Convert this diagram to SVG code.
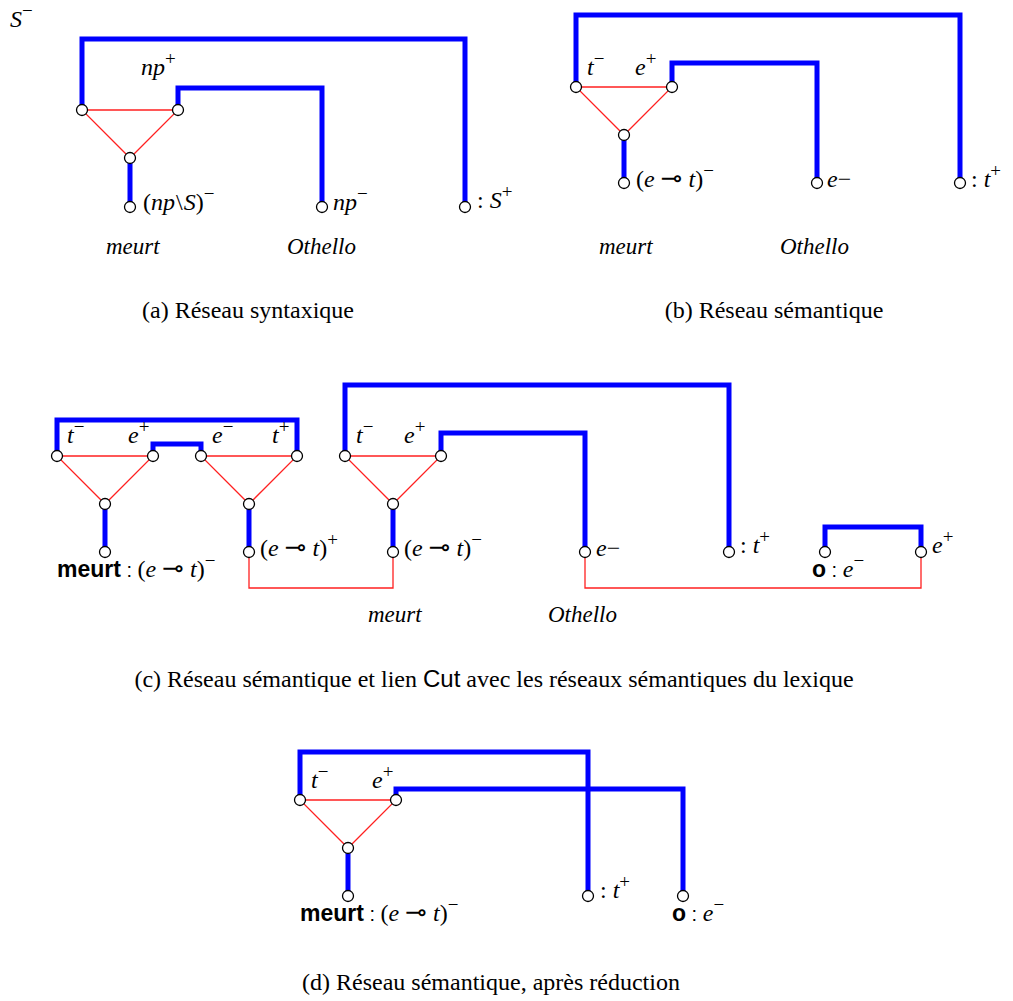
<svg xmlns="http://www.w3.org/2000/svg" width="1013" height="1001" viewBox="0 0 1013 1001">
<style>
.bl{fill:none;stroke:#0000ff;stroke-width:5;stroke-linejoin:miter;stroke-linecap:butt}
.rd{fill:none;stroke:#ff2020;stroke-width:1.3}
.nd{fill:#fff;stroke:#000;stroke-width:1.3}
.m{font-family:"Liberation Serif",serif;font-size:24px;fill:#000}
.w{font-family:"Liberation Serif",serif;font-size:23px;fill:#000;font-style:italic}
.i{font-style:italic}
.sup{font-size:19px;font-style:normal}
.cap{font-family:"Liberation Serif",serif;font-size:24px;fill:#000;text-anchor:middle}
.sf{font-family:"Liberation Sans",Arial,sans-serif}
.b{font-family:"Liberation Sans",Arial,sans-serif;font-weight:bold;font-size:23px}
.col{font-family:"Liberation Sans",Arial,sans-serif;font-size:20px}
.op{font-family:"DejaVu Sans",sans-serif;font-size:26px;font-style:normal}
</style>
<rect width="1013" height="1001" fill="#fff"/>
<g id="connectors">
  <path class="rd" d="M82,110 H178 L130,158 Z"/>
  <path class="bl" d="M82,110 V39 H465 V207"/>
  <path class="bl" d="M178,110 V88 H322 V207"/>
  <path class="bl" d="M130,158 V207"/>
  <path class="rd" d="M576,87 H672 L624,135 Z"/>
  <path class="bl" d="M576,87 V15 H960 V183"/>
  <path class="bl" d="M672,87 V63 H817 V183"/>
  <path class="bl" d="M624,135 V183"/>
  <path class="rd" d="M57,456 H153 L105,504 Z"/>
  <path class="rd" d="M201,456 H297 L249,504 Z"/>
  <path class="bl" d="M57,456 V420 H297 V456"/>
  <path class="bl" d="M153,456 V444 H201 V456"/>
  <path class="bl" d="M105,504 V552"/>
  <path class="bl" d="M249,504 V552"/>
  <path class="rd" d="M345,456 H441 L393,504 Z"/>
  <path class="bl" d="M345,456 V385 H729 V552"/>
  <path class="bl" d="M441,456 V433 H585 V552"/>
  <path class="bl" d="M393,504 V552"/>
  <path class="bl" d="M825,552 V527 H921 V552"/>
  <path class="rd" d="M249,552 V588 H393 V552"/>
  <path class="rd" d="M585,552 V588 H921 V552"/>
  <path class="rd" d="M300,800 H396 L348,848 Z"/>
  <path class="bl" d="M396,800 V789 H683 V896"/>
  <path class="bl" d="M300,800 V752 H588 V896"/>
  <path class="bl" d="M348,848 V896"/>
</g>
<g id="nodes-a">
  <g id="a-n1"><circle class="nd" cx="82" cy="110" r="5.5"/></g>
  <g id="a-n2"><circle class="nd" cx="178" cy="110" r="5.5"/></g>
  <g id="a-n3"><circle class="nd" cx="130" cy="158" r="5.5"/></g>
  <g id="a-n4"><circle class="nd" cx="130" cy="207" r="5.5"/></g>
  <g id="a-n5"><circle class="nd" cx="322" cy="207" r="5.5"/></g>
  <g id="a-n6"><circle class="nd" cx="465" cy="207" r="5.5"/></g>
  <text class="m i" x="10" y="27">S<tspan class="sup" dy="-10">−</tspan></text>
  <text class="m i" x="141" y="75">np<tspan class="sup" dy="-10">+</tspan></text>
  <text class="m" x="143" y="210">(<tspan class="i">np</tspan><tspan dx="1">\</tspan><tspan class="i" dx="1">S</tspan>)<tspan class="sup" dy="-10">−</tspan></text>
  <text class="m i" x="333" y="210">np<tspan class="sup" dy="-10">−</tspan></text>
  <text class="m" x="477" y="208">: <tspan class="i">S</tspan><tspan class="sup" dy="-10">+</tspan></text>
  <text class="w" x="106" y="254">meurt</text>
  <text class="w" x="287" y="254">Othello</text>
  <text class="cap" x="248" y="318">(a) Réseau syntaxique</text>
</g>
<g id="nodes-b">
  <g id="b-n1"><circle class="nd" cx="576" cy="87" r="5.5"/></g>
  <g id="b-n2"><circle class="nd" cx="672" cy="87" r="5.5"/></g>
  <g id="b-n3"><circle class="nd" cx="624" cy="135" r="5.5"/></g>
  <g id="b-n4"><circle class="nd" cx="624" cy="183" r="5.5"/></g>
  <g id="b-n5"><circle class="nd" cx="817" cy="183" r="5.5"/></g>
  <g id="b-n6"><circle class="nd" cx="960" cy="183" r="5.5"/></g>
  <text class="m i" x="587" y="75">t<tspan class="sup" dy="-10">−</tspan></text>
  <text class="m i" x="635" y="75">e<tspan class="sup" dy="-10">+</tspan></text>
  <text class="m" x="636" y="187">(<tspan class="i">e</tspan><tspan class="op" dx="6">⊸</tspan><tspan class="i" dx="6">t</tspan>)<tspan class="sup" dy="-10">−</tspan></text>
  <text class="m" x="827" y="187"><tspan class="i">e</tspan>−</text>
  <text class="m" x="971" y="187">: <tspan class="i">t</tspan><tspan class="sup" dy="-10">+</tspan></text>
  <text class="w" x="599" y="254">meurt</text>
  <text class="w" x="780" y="254">Othello</text>
  <text class="cap" x="774" y="318">(b) Réseau sémantique</text>
</g>
<g id="nodes-c">
  <g id="c-n1"><circle class="nd" cx="57" cy="456" r="5.5"/></g>
  <g id="c-n2"><circle class="nd" cx="153" cy="456" r="5.5"/></g>
  <g id="c-n3"><circle class="nd" cx="105" cy="504" r="5.5"/></g>
  <g id="c-n4"><circle class="nd" cx="105" cy="552" r="5.5"/></g>
  <g id="c-n5"><circle class="nd" cx="201" cy="456" r="5.5"/></g>
  <g id="c-n6"><circle class="nd" cx="297" cy="456" r="5.5"/></g>
  <g id="c-n7"><circle class="nd" cx="249" cy="504" r="5.5"/></g>
  <g id="c-n8"><circle class="nd" cx="249" cy="552" r="5.5"/></g>
  <g id="c-n9"><circle class="nd" cx="345" cy="456" r="5.5"/></g>
  <g id="c-n10"><circle class="nd" cx="441" cy="456" r="5.5"/></g>
  <g id="c-n11"><circle class="nd" cx="393" cy="504" r="5.5"/></g>
  <g id="c-n12"><circle class="nd" cx="393" cy="552" r="5.5"/></g>
  <g id="c-n13"><circle class="nd" cx="585" cy="552" r="5.5"/></g>
  <g id="c-n14"><circle class="nd" cx="729" cy="552" r="5.5"/></g>
  <g id="c-n15"><circle class="nd" cx="825" cy="552" r="5.5"/></g>
  <g id="c-n16"><circle class="nd" cx="921" cy="552" r="5.5"/></g>
  <text class="m i" x="67" y="443">t<tspan class="sup" dy="-10">−</tspan></text>
  <text class="m i" x="128" y="443">e<tspan class="sup" dy="-10">+</tspan></text>
  <text class="m i" x="212" y="443">e<tspan class="sup" dy="-10">−</tspan></text>
  <text class="m i" x="272" y="443">t<tspan class="sup" dy="-10">+</tspan></text>
  <text class="m" x="57" y="577"><tspan class="b">meurt</tspan><tspan class="col"> : </tspan>(<tspan class="i">e</tspan><tspan class="op" dx="6">⊸</tspan><tspan class="i" dx="6">t</tspan>)<tspan class="sup" dy="-10">−</tspan></text>
  <text class="m" x="260" y="556">(<tspan class="i">e</tspan><tspan class="op" dx="6">⊸</tspan><tspan class="i" dx="6">t</tspan>)<tspan class="sup" dy="-10">+</tspan></text>
  <text class="m i" x="356" y="443">t<tspan class="sup" dy="-10">−</tspan></text>
  <text class="m i" x="404" y="443">e<tspan class="sup" dy="-10">+</tspan></text>
  <text class="m" x="404" y="556">(<tspan class="i">e</tspan><tspan class="op" dx="6">⊸</tspan><tspan class="i" dx="6">t</tspan>)<tspan class="sup" dy="-10">−</tspan></text>
  <text class="m" x="596" y="556"><tspan class="i">e</tspan>−</text>
  <text class="m" x="740" y="553">: <tspan class="i">t</tspan><tspan class="sup" dy="-10">+</tspan></text>
  <text class="m" x="812" y="577"><tspan class="b">o</tspan><tspan class="col"> : </tspan><tspan class="i">e</tspan><tspan class="sup" dy="-10">−</tspan></text>
  <text class="m i" x="932" y="553">e<tspan class="sup" dy="-10">+</tspan></text>
  <text class="w" x="368" y="622">meurt</text>
  <text class="w" x="548" y="622">Othello</text>
  <text class="cap" x="494" y="687">(c) Réseau sémantique et lien <tspan class="sf">Cut</tspan> avec les réseaux sémantiques du lexique</text>
</g>
<g id="nodes-d">
  <g id="d-n1"><circle class="nd" cx="300" cy="800" r="5.5"/></g>
  <g id="d-n2"><circle class="nd" cx="396" cy="800" r="5.5"/></g>
  <g id="d-n3"><circle class="nd" cx="348" cy="848" r="5.5"/></g>
  <g id="d-n4"><circle class="nd" cx="348" cy="896" r="5.5"/></g>
  <g id="d-n5"><circle class="nd" cx="588" cy="896" r="5.5"/></g>
  <g id="d-n6"><circle class="nd" cx="683" cy="896" r="5.5"/></g>
  <text class="m i" x="311" y="788">t<tspan class="sup" dy="-10">−</tspan></text>
  <text class="m i" x="372" y="788">e<tspan class="sup" dy="-10">+</tspan></text>
  <text class="m" x="300" y="921"><tspan class="b">meurt</tspan><tspan class="col"> : </tspan>(<tspan class="i">e</tspan><tspan class="op" dx="6">⊸</tspan><tspan class="i" dx="6">t</tspan>)<tspan class="sup" dy="-10">−</tspan></text>
  <text class="m" x="600" y="898">: <tspan class="i">t</tspan><tspan class="sup" dy="-10">+</tspan></text>
  <text class="m" x="672" y="921"><tspan class="b">o</tspan><tspan class="col"> : </tspan><tspan class="i">e</tspan><tspan class="sup" dy="-10">−</tspan></text>
  <text class="cap" x="491" y="990">(d) Réseau sémantique, après réduction</text>
</g>
</svg>
